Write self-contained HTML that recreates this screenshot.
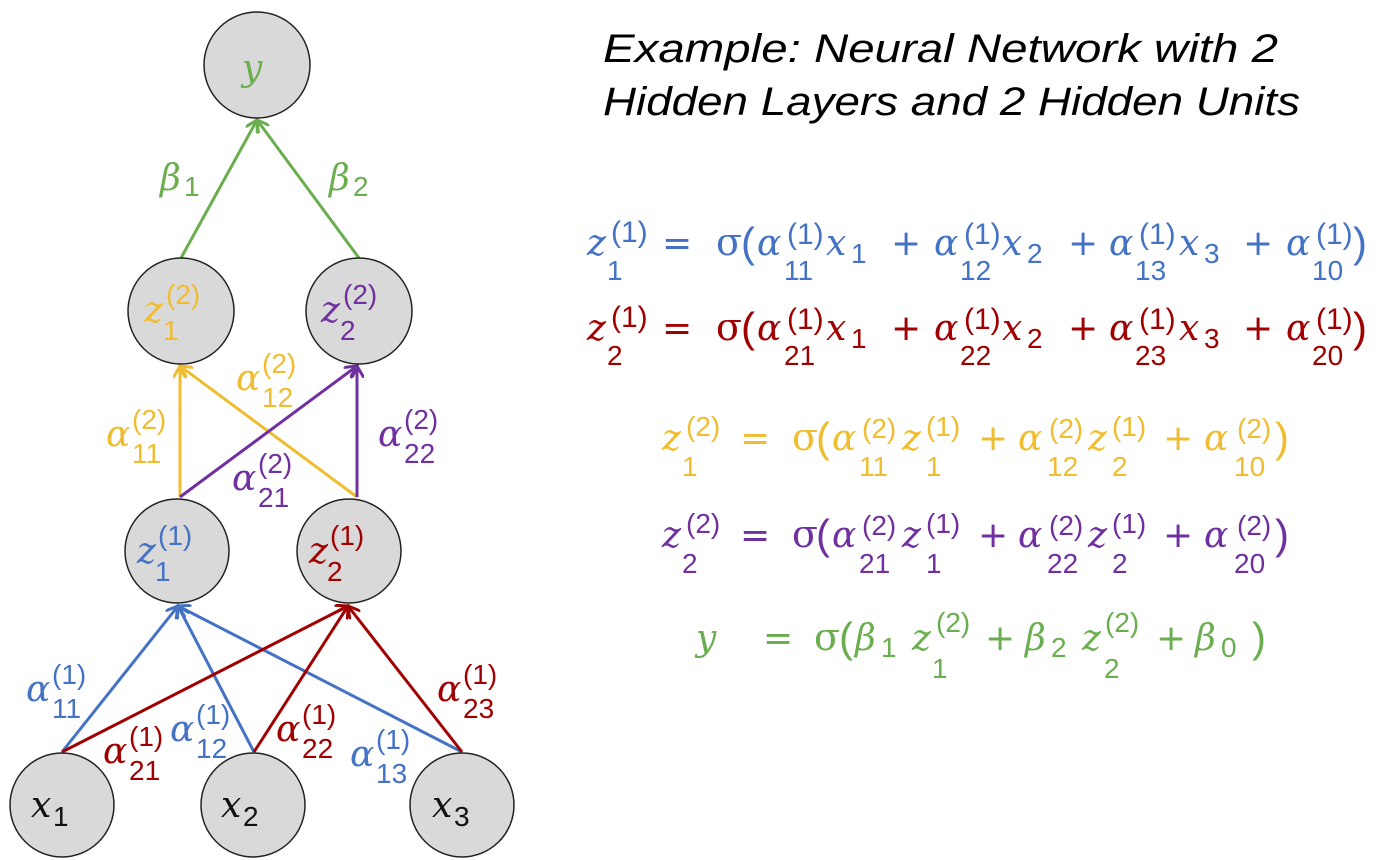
<!DOCTYPE html>
<html><head><meta charset="utf-8"><style>
html,body{margin:0;padding:0;background:#fff;}
svg{display:block}
.L{font-family:"DejaVu Serif","Liberation Serif",serif;font-style:italic;font-size:36px;}
.d{font-family:"Liberation Sans",sans-serif;font-size:28px;}
.s{font-family:"Liberation Sans",sans-serif;font-size:30px;}
.o{font-family:"DejaVu Sans","Liberation Sans",sans-serif;font-size:36px;}
.p{font-family:"Liberation Sans",sans-serif;font-size:42px;}
.g{font-family:"DejaVu Serif","Liberation Serif",serif;font-size:38px;}
</style></head><body>
<svg width="1397" height="860" viewBox="0 0 1397 860">
<defs>
<marker id="ab" markerWidth="14" markerHeight="14" refX="12" refY="7" orient="auto" markerUnits="userSpaceOnUse" viewBox="0 0 14 14"><path d="M0,0 L12,7 L0,14" fill="none" stroke="#4472c4" stroke-width="3"/></marker>
<marker id="ar" markerWidth="14" markerHeight="14" refX="12" refY="7" orient="auto" markerUnits="userSpaceOnUse" viewBox="0 0 14 14"><path d="M0,0 L12,7 L0,14" fill="none" stroke="#a00000" stroke-width="3"/></marker>
<marker id="ay" markerWidth="14" markerHeight="14" refX="12" refY="7" orient="auto" markerUnits="userSpaceOnUse" viewBox="0 0 14 14"><path d="M0,0 L12,7 L0,14" fill="none" stroke="#efbd2f" stroke-width="3"/></marker>
<marker id="ap" markerWidth="14" markerHeight="14" refX="12" refY="7" orient="auto" markerUnits="userSpaceOnUse" viewBox="0 0 14 14"><path d="M0,0 L12,7 L0,14" fill="none" stroke="#7030a0" stroke-width="3"/></marker>
<marker id="ag" markerWidth="14" markerHeight="14" refX="12" refY="7" orient="auto" markerUnits="userSpaceOnUse" viewBox="0 0 14 14"><path d="M0,0 L12,7 L0,14" fill="none" stroke="#6aae4f" stroke-width="3"/></marker>
</defs>

<g stroke-width="3" fill="none">
<line x1="62" y1="752" x2="178" y2="606" stroke="#4472c4" marker-end="url(#ab)"/>
<line x1="254" y1="752" x2="178" y2="606" stroke="#4472c4" marker-end="url(#ab)"/>
<line x1="462" y1="752" x2="178" y2="606" stroke="#4472c4" marker-end="url(#ab)"/>
<line x1="62" y1="752" x2="348" y2="606" stroke="#a00000" marker-end="url(#ar)"/>
<line x1="254" y1="752" x2="348" y2="606" stroke="#a00000" marker-end="url(#ar)"/>
<line x1="462" y1="752" x2="348" y2="606" stroke="#a00000" marker-end="url(#ar)"/>
<line x1="180" y1="497" x2="180" y2="366" stroke="#efbd2f" marker-end="url(#ay)"/>
<line x1="357" y1="497" x2="180" y2="366" stroke="#efbd2f" marker-end="url(#ay)"/>
<line x1="180" y1="497" x2="357" y2="366" stroke="#7030a0" marker-end="url(#ap)"/>
<line x1="357" y1="497" x2="357" y2="366" stroke="#7030a0" marker-end="url(#ap)"/>
<line x1="181" y1="258" x2="257" y2="120" stroke="#6aae4f" marker-end="url(#ag)"/>
<line x1="359" y1="258" x2="257" y2="120" stroke="#6aae4f" marker-end="url(#ag)"/>
</g>

<g fill="#d9d9d9" stroke="#222" stroke-width="1.5">
<circle cx="257" cy="65" r="53"/>
<circle cx="181" cy="311" r="53"/>
<circle cx="359" cy="311" r="53"/>
<circle cx="177" cy="551" r="52"/>
<circle cx="349" cy="551" r="52"/>
<circle cx="62" cy="805" r="52"/>
<circle cx="253" cy="805" r="52"/>
<circle cx="462" cy="805" r="52"/>
</g>

<g>
<text class="L" x="242" y="80" fill="#6aae4f">y</text>
<g fill="#efbd2f"><text class="L" x="144" y="322">z</text><text class="d" x="166" y="304">(2)</text><text class="d" x="163" y="340">1</text></g>
<g fill="#7030a0"><text class="L" x="321" y="322">z</text><text class="d" x="343" y="304">(2)</text><text class="d" x="340" y="340">2</text></g>
<g fill="#4472c4"><text class="L" x="137" y="563">z</text><text class="d" x="158" y="545">(1)</text><text class="d" x="155" y="581">1</text></g>
<g fill="#a00000"><text class="L" x="309" y="563">z</text><text class="d" x="330" y="545">(1)</text><text class="d" x="327" y="581">2</text></g>
<g fill="#111"><text class="L" x="31" y="817">x</text><text class="d" x="53" y="826">1</text></g>
<g fill="#111"><text class="L" x="221" y="817">x</text><text class="d" x="243" y="826">2</text></g>
<g fill="#111"><text class="L" x="432" y="817">x</text><text class="d" x="454" y="826">3</text></g>
</g>

<g>
<g fill="#6aae4f"><text class="L" x="160" y="190">β</text><text class="d" x="184" y="196">1</text></g>
<g fill="#6aae4f"><text class="L" x="329" y="190">β</text><text class="d" x="353" y="196">2</text></g>
<g fill="#efbd2f" transform="translate(106,446)"><text class="L">α</text><text class="d" x="26" y="-17">(2)</text><text class="d" x="26" y="17">11</text></g>
<g fill="#efbd2f" transform="translate(236,390)"><text class="L">α</text><text class="d" x="26" y="-17">(2)</text><text class="d" x="26" y="17">12</text></g>
<g fill="#7030a0" transform="translate(378,446)"><text class="L">α</text><text class="d" x="26" y="-17">(2)</text><text class="d" x="26" y="17">22</text></g>
<g fill="#7030a0" transform="translate(232,490)"><text class="L">α</text><text class="d" x="26" y="-17">(2)</text><text class="d" x="26" y="17">21</text></g>
<g fill="#4472c4" transform="translate(26,701)"><text class="L">α</text><text class="d" x="26" y="-17">(1)</text><text class="d" x="26" y="17">11</text></g>
<g fill="#a00000" transform="translate(103,763)"><text class="L">α</text><text class="d" x="26" y="-17">(1)</text><text class="d" x="26" y="17">21</text></g>
<g fill="#4472c4" transform="translate(170,741)"><text class="L">α</text><text class="d" x="26" y="-17">(1)</text><text class="d" x="26" y="17">12</text></g>
<g fill="#a00000" transform="translate(276,741)"><text class="L">α</text><text class="d" x="26" y="-17">(1)</text><text class="d" x="26" y="17">22</text></g>
<g fill="#4472c4" transform="translate(350,766)"><text class="L">α</text><text class="d" x="26" y="-17">(1)</text><text class="d" x="26" y="17">13</text></g>
<g fill="#a00000" transform="translate(437,701)"><text class="L">α</text><text class="d" x="26" y="-17">(1)</text><text class="d" x="26" y="17">23</text></g>
</g>

<g font-family="Liberation Sans, sans-serif" font-style="italic" font-size="40" fill="#000">
<text x="603" y="62" textLength="675" lengthAdjust="spacingAndGlyphs">Example: Neural Network with 2</text>
<text x="603" y="115" textLength="697" lengthAdjust="spacingAndGlyphs">Hidden Layers and 2 Hidden Units</text>
</g>

<g fill="#4472c4">
<text class="L" x="587" y="255">z</text><text class="s" x="611" y="242">(1)</text><text class="d" x="607" y="280">1</text>
<text class="o" x="662" y="255">=</text><text class="g" x="716" y="255">σ</text><text class="p" x="741" y="257">(</text>
<text class="L" x="757" y="255">α</text><text class="s" x="787" y="244">(1)</text><text class="d" x="784" y="280">11</text><text class="L" x="826" y="255">x</text><text class="d" x="851" y="263">1</text>
<text class="o" x="891" y="255">+</text><text class="L" x="934" y="255">α</text><text class="s" x="964" y="244">(1)</text><text class="d" x="960" y="280">12</text><text class="L" x="1002" y="255">x</text><text class="d" x="1027" y="263">2</text>
<text class="o" x="1068" y="255">+</text><text class="L" x="1109" y="255">α</text><text class="s" x="1139" y="244">(1)</text><text class="d" x="1135" y="280">13</text><text class="L" x="1179" y="255">x</text><text class="d" x="1204" y="263">3</text>
<text class="o" x="1243" y="255">+</text><text class="L" x="1286" y="255">α</text><text class="s" x="1316" y="244">(1)</text><text class="d" x="1312" y="280">10</text><text class="p" x="1353" y="257">)</text>
</g>

<g fill="#a00000">
<text class="L" x="587" y="340">z</text><text class="s" x="611" y="327">(1)</text><text class="d" x="607" y="365">2</text>
<text class="o" x="662" y="340">=</text><text class="g" x="716" y="340">σ</text><text class="p" x="741" y="342">(</text>
<text class="L" x="757" y="340">α</text><text class="s" x="787" y="329">(1)</text><text class="d" x="784" y="365">21</text><text class="L" x="826" y="340">x</text><text class="d" x="851" y="348">1</text>
<text class="o" x="891" y="340">+</text><text class="L" x="934" y="340">α</text><text class="s" x="964" y="329">(1)</text><text class="d" x="960" y="365">22</text><text class="L" x="1002" y="340">x</text><text class="d" x="1027" y="348">2</text>
<text class="o" x="1068" y="340">+</text><text class="L" x="1109" y="340">α</text><text class="s" x="1139" y="329">(1)</text><text class="d" x="1135" y="365">23</text><text class="L" x="1179" y="340">x</text><text class="d" x="1204" y="348">3</text>
<text class="o" x="1243" y="340">+</text><text class="L" x="1286" y="340">α</text><text class="s" x="1316" y="329">(1)</text><text class="d" x="1312" y="365">20</text><text class="p" x="1353" y="342">)</text>
</g>

<g fill="#efbd2f">
<text class="L" x="662" y="450">z</text><text class="d" x="686" y="436">(2)</text><text class="d" x="682" y="476">1</text>
<text class="o" x="740" y="450">=</text><text class="g" x="792" y="450">σ</text><text class="p" x="816" y="452">(</text>
<text class="L" x="832" y="450">α</text><text class="d" x="862" y="438">(2)</text><text class="d" x="859" y="476">11</text><text class="L" x="902" y="450">z</text><text class="d" x="926" y="436">(1)</text><text class="d" x="926" y="476">1</text>
<text class="o" x="978" y="450">+</text><text class="L" x="1018" y="450">α</text><text class="d" x="1049" y="438">(2)</text><text class="d" x="1047" y="476">12</text><text class="L" x="1088" y="450">z</text><text class="d" x="1112" y="436">(1)</text><text class="d" x="1112" y="476">2</text>
<text class="o" x="1163" y="450">+</text><text class="L" x="1204" y="450">α</text><text class="d" x="1237" y="438">(2)</text><text class="d" x="1234" y="476">10</text><text class="p" x="1275" y="452">)</text>
</g>

<g fill="#7030a0">
<text class="L" x="662" y="547">z</text><text class="d" x="686" y="533">(2)</text><text class="d" x="682" y="573">2</text>
<text class="o" x="740" y="547">=</text><text class="g" x="792" y="547">σ</text><text class="p" x="816" y="549">(</text>
<text class="L" x="832" y="547">α</text><text class="d" x="862" y="535">(2)</text><text class="d" x="859" y="573">21</text><text class="L" x="902" y="547">z</text><text class="d" x="926" y="533">(1)</text><text class="d" x="926" y="573">1</text>
<text class="o" x="978" y="547">+</text><text class="L" x="1018" y="547">α</text><text class="d" x="1049" y="535">(2)</text><text class="d" x="1047" y="573">22</text><text class="L" x="1088" y="547">z</text><text class="d" x="1112" y="533">(1)</text><text class="d" x="1112" y="573">2</text>
<text class="o" x="1163" y="547">+</text><text class="L" x="1204" y="547">α</text><text class="d" x="1237" y="535">(2)</text><text class="d" x="1234" y="573">20</text><text class="p" x="1275" y="549">)</text>
</g>

<g fill="#6aae4f">
<text class="L" x="696" y="650">y</text>
<text class="o" x="763" y="650">=</text><text class="g" x="814" y="650">σ</text><text class="p" x="839" y="652">(</text>
<text class="L" x="855" y="650">β</text><text class="d" x="881" y="657">1</text>
<text class="L" x="912" y="650">z</text><text class="d" x="936" y="632">(2)</text><text class="d" x="932" y="678">1</text>
<text class="o" x="985" y="650">+</text>
<text class="L" x="1025" y="650">β</text><text class="d" x="1051" y="657">2</text>
<text class="L" x="1082" y="650">z</text><text class="d" x="1105" y="632">(2)</text><text class="d" x="1104" y="678">2</text>
<text class="o" x="1156" y="650">+</text>
<text class="L" x="1195" y="650">β</text><text class="d" x="1221" y="657">0</text>
<text class="p" x="1252" y="652">)</text>
</g>
</svg>
</body></html>
